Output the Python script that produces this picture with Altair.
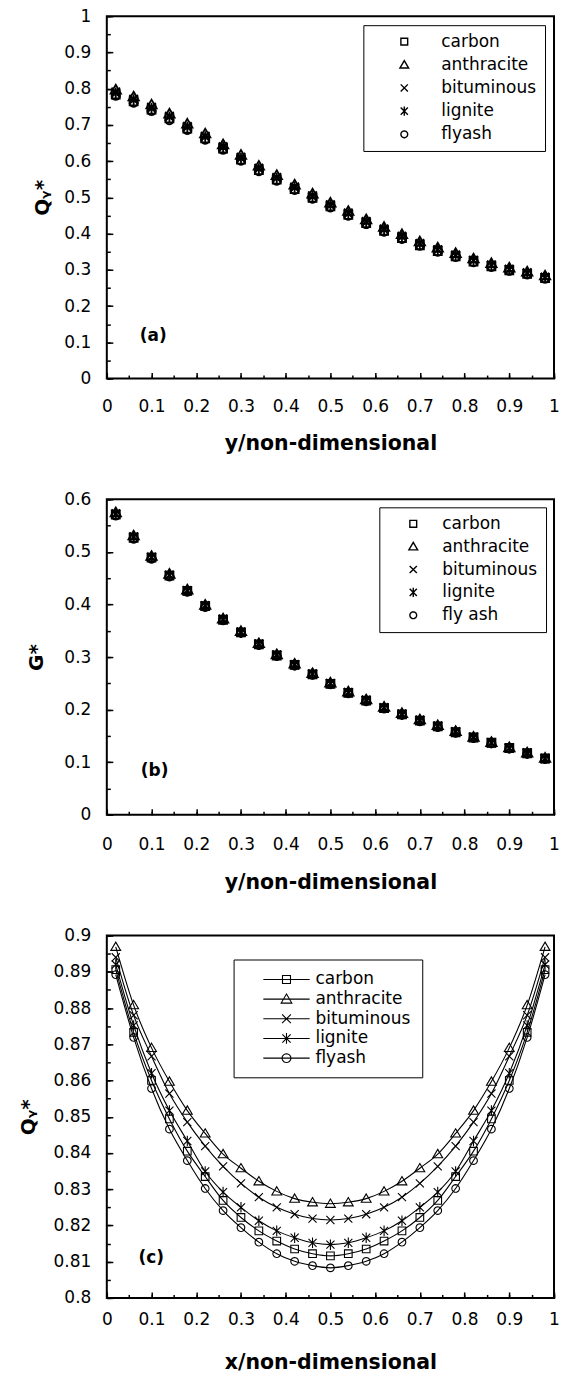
import math
import altair as alt
import pandas as pd

# ---------------- data ----------------
X_POS = [0.02, 0.06, 0.10, 0.14, 0.18, 0.22, 0.26, 0.30, 0.34, 0.38, 0.42, 0.46, 0.50,
         0.54, 0.58, 0.62, 0.66, 0.70, 0.74, 0.78, 0.82, 0.86, 0.90, 0.94, 0.98]

NAMES_A = ["carbon", "anthracite", "bituminous", "lignite", "flyash"]
NAMES_B = ["carbon", "anthracite", "bituminous", "lignite", "fly ash"]
NAMES_C = ["carbon", "anthracite", "bituminous", "lignite", "flyash"]

# panel (a)  Qy* vs y
carbon_a = [0.784, 0.765, 0.742, 0.718, 0.690, 0.663, 0.635, 0.604, 0.575, 0.549, 0.523, 0.499, 0.475,
            0.452, 0.429, 0.408, 0.388, 0.368, 0.352, 0.337, 0.323, 0.310, 0.299, 0.289, 0.277]
anthracite_a = [0.797, 0.778, 0.756, 0.731, 0.703, 0.676, 0.646, 0.617, 0.587, 0.561, 0.535, 0.510, 0.485,
                0.462, 0.439, 0.418, 0.398, 0.378, 0.361, 0.346, 0.331, 0.318, 0.306, 0.295, 0.284]
bituminous_a = [0.791, 0.771, 0.749, 0.724, 0.696, 0.669, 0.640, 0.611, 0.581, 0.555, 0.529, 0.505, 0.480,
                0.457, 0.434, 0.413, 0.393, 0.373, 0.356, 0.341, 0.327, 0.314, 0.302, 0.292, 0.280]
lignite_a = [0.788, 0.769, 0.746, 0.722, 0.694, 0.667, 0.638, 0.608, 0.579, 0.553, 0.527, 0.502, 0.478,
             0.455, 0.432, 0.411, 0.391, 0.371, 0.355, 0.340, 0.326, 0.313, 0.301, 0.291, 0.279]
flyash_a = [0.780, 0.761, 0.738, 0.713, 0.686, 0.659, 0.631, 0.601, 0.572, 0.546, 0.520, 0.496, 0.472,
            0.449, 0.426, 0.405, 0.385, 0.366, 0.350, 0.335, 0.321, 0.308, 0.297, 0.287, 0.275]

# panel (b)  G* vs y
carbon_b = [0.571, 0.527, 0.489, 0.455, 0.426, 0.397, 0.371, 0.347, 0.324, 0.303, 0.285, 0.267, 0.249,
            0.232, 0.217, 0.203, 0.191, 0.179, 0.168, 0.157, 0.147, 0.137, 0.127, 0.117, 0.107]
anthracite_b = [0.575, 0.531, 0.492, 0.458, 0.428, 0.399, 0.373, 0.349, 0.326, 0.305, 0.287, 0.269, 0.251,
                0.234, 0.219, 0.205, 0.193, 0.181, 0.170, 0.159, 0.148, 0.138, 0.128, 0.118, 0.108]
bituminous_b = [0.573, 0.529, 0.490, 0.456, 0.427, 0.398, 0.372, 0.348, 0.325, 0.304, 0.286, 0.268, 0.250,
                0.233, 0.218, 0.204, 0.192, 0.180, 0.169, 0.158, 0.148, 0.137, 0.127, 0.118, 0.107]
lignite_b = [0.572, 0.528, 0.490, 0.456, 0.426, 0.398, 0.372, 0.347, 0.325, 0.304, 0.285, 0.268, 0.250,
             0.233, 0.218, 0.204, 0.191, 0.180, 0.168, 0.158, 0.147, 0.137, 0.127, 0.117, 0.107]
flyash_b = [0.569, 0.525, 0.487, 0.453, 0.424, 0.395, 0.370, 0.346, 0.323, 0.302, 0.284, 0.266, 0.248,
            0.231, 0.216, 0.202, 0.190, 0.178, 0.167, 0.156, 0.146, 0.136, 0.126, 0.116, 0.106]

# panel (c)  Qy* vs x
carbon_c = [0.8906, 0.8733, 0.8600, 0.8494, 0.8405, 0.8335, 0.8269, 0.8222, 0.8185, 0.8157, 0.8135, 0.8122, 0.8116,
            0.8122, 0.8135, 0.8157, 0.8185, 0.8222, 0.8269, 0.8335, 0.8405, 0.8494, 0.8600, 0.8733, 0.8906]
anthracite_c = [0.8969, 0.8808, 0.8690, 0.8597, 0.8517, 0.8454, 0.8397, 0.8358, 0.8322, 0.8294, 0.8274, 0.8264, 0.8260,
                0.8264, 0.8274, 0.8294, 0.8322, 0.8358, 0.8397, 0.8454, 0.8517, 0.8597, 0.8690, 0.8808, 0.8969]
bituminous_c = [0.8940, 0.8780, 0.8667, 0.8564, 0.8485, 0.8419, 0.8363, 0.8316, 0.8278, 0.8250, 0.8231, 0.8219, 0.8215,
                0.8219, 0.8231, 0.8250, 0.8278, 0.8316, 0.8363, 0.8419, 0.8485, 0.8564, 0.8667, 0.8780, 0.8940]
lignite_c = [0.8920, 0.8752, 0.8620, 0.8517, 0.8433, 0.8349, 0.8292, 0.8250, 0.8213, 0.8185, 0.8166, 0.8152, 0.8147,
             0.8152, 0.8166, 0.8185, 0.8213, 0.8250, 0.8292, 0.8349, 0.8433, 0.8517, 0.8620, 0.8752, 0.8920]
flyash_c = [0.8892, 0.8719, 0.8578, 0.8466, 0.8379, 0.8302, 0.8241, 0.8194, 0.8154, 0.8122, 0.8101, 0.8089, 0.8083,
            0.8089, 0.8101, 0.8122, 0.8154, 0.8194, 0.8241, 0.8302, 0.8379, 0.8466, 0.8578, 0.8719, 0.8892]

X_TICKS = [0, 0.1, 0.2, 0.3, 0.4, 0.5, 0.6, 0.7, 0.8, 0.9, 1]
X_MINOR = [0, 0.05, 0.1, 0.15, 0.2, 0.25, 0.3, 0.35, 0.4, 0.45, 0.5, 0.55, 0.6, 0.65, 0.7, 0.75, 0.8, 0.85, 0.9, 0.95, 1]
Y_TICKS_A = [0, 0.1, 0.2, 0.3, 0.4, 0.5, 0.6, 0.7, 0.8, 0.9, 1]
Y_MINOR_A = X_MINOR
Y_TICKS_B = [0, 0.1, 0.2, 0.3, 0.4, 0.5, 0.6]
Y_MINOR_B = [0, 0.05, 0.1, 0.15, 0.2, 0.25, 0.3, 0.35, 0.4, 0.45, 0.5, 0.55, 0.6]
Y_TICKS_C = [0.8, 0.81, 0.82, 0.83, 0.84, 0.85, 0.86, 0.87, 0.88, 0.89, 0.9]
Y_MINOR_C = [0.8, 0.805, 0.81, 0.815, 0.82, 0.825, 0.83, 0.835, 0.84, 0.845, 0.85, 0.855,
             0.86, 0.865, 0.87, 0.875, 0.88, 0.885, 0.89, 0.895, 0.9]

PANEL_TAGS = ["(a)", "(b)", "(c)"]
TAG_X = [0.104, 0.107, 0.0995]
TAG_Y = [0.118, 0.0835, 0.8111]


def long_df(names, cols):
    rows = []
    for n, vals in zip(names, cols):
        for xv, v in zip(X_POS, vals):
            rows.append({"x": xv, "v": v, "s": n})
    return pd.DataFrame(rows)


df_a = long_df(NAMES_A, [carbon_a, anthracite_a, bituminous_a, lignite_a, flyash_a])
df_b = long_df(NAMES_B, [carbon_b, anthracite_b, bituminous_b, lignite_b, flyash_b])
df_c = long_df(NAMES_C, [carbon_c, anthracite_c, bituminous_c, lignite_c, flyash_c])

# ---------------- styling ----------------
FONT = "DejaVu Sans"
LBL = 17
W = 448
HA, HB, HC = 363, 316, 363


def sq(r):
    return f"M{-r},{-r}L{r},{-r}L{r},{r}L{-r},{r}Z"


def tri(r):
    return f"M0,{-1.1*r:.4f}L{1.15*r:.4f},{0.85*r:.4f}L{-1.15*r:.4f},{0.85*r:.4f}Z"


def xs(r):
    return f"M{-r},{-r}L{r},{r}M{-r},{r}L{r},{-r}"


def ast(r):
    return xs(r) + f"M0,{-1.3*r:.4f}L0,{1.3*r:.4f}"


def circ(r, n=20):
    pts = [f"{r*math.cos(2*math.pi*i/n):.4f},{r*math.sin(2*math.pi*i/n):.4f}" for i in range(n)]
    return "M" + "L".join(pts) + "Z"


SHAPES = [sq(0.85), tri(0.95), xs(0.9), ast(0.9), circ(0.85)]
# legend (c): symbol unit = 8 px (symbolSize 256); line 46 px long through the marker
LINE_SEG = "M-2.9,0L2.9,0"
LEG_C_SHAPES = [LINE_SEG + sq(0.5), LINE_SEG + tri(0.58), LINE_SEG + xs(0.55),
                LINE_SEG + ast(0.52), LINE_SEG + circ(0.55)]


def main_x_axis(title, lpad, tpad):
    return alt.Axis(values=X_TICKS, format="~g", labelFont=FONT, labelFontSize=LBL, labelColor="black",
                    labelPadding=lpad, labelFlush=False, labelOverlap=False, ticks=False, domain=False,
                    grid=False, title=title, titleFont=FONT, titleFontSize=20.5, titleFontWeight="bold",
                    titleColor="black", titlePadding=tpad)


def main_y_axis(values, title, tpad):
    return alt.Axis(values=values, format="~g", labelFont=FONT, labelFontSize=LBL, labelColor="black",
                    labelPadding=16, labelOverlap=False, ticks=False, domain=False, grid=False,
                    title=title, titleFont=FONT, titleFontSize=20, titleFontWeight="bold",
                    titleColor="black", titlePadding=tpad)


def tick_x_axis(H, values, size):
    return alt.Axis(orient="top", offset=-H, values=values, labels=False, domain=False, grid=False,
                    ticks=True, tickColor="black", tickWidth=1.5, tickSize=size, title=None)


def tick_y_axis(values, size):
    return alt.Axis(orient="right", offset=-W, values=values, labels=False, domain=False, grid=False,
                    ticks=True, tickColor="black", tickWidth=1.5, tickSize=size, title=None)


def marker_legend(lx, ly, so, lo, rp):
    return alt.Legend(orient="none", legendX=lx, legendY=ly, title=None, strokeColor="black",
                      fillColor="white", padding=8, labelFont=FONT, labelFontSize=LBL, labelColor="black",
                      symbolSize=64, symbolStrokeWidth=1.4, symbolStrokeColor="black",
                      symbolOffset=so, labelOffset=lo, rowPadding=rp)


x_scale = alt.Scale(domain=[0, 1], nice=False, zero=False)


def tick_layers(tag_i, y_scale, H, ymajor, yminor):
    tag_df = pd.DataFrame({"x": [TAG_X[tag_i]], "v": [TAG_Y[tag_i]], "t": [PANEL_TAGS[tag_i]]})
    tag = alt.Chart(tag_df).mark_text(font=FONT, fontSize=17, fontWeight="bold", color="black").encode(
        x=alt.X("x:Q", scale=x_scale, axis=tick_x_axis(H, X_TICKS, 6)),
        y=alt.Y("v:Q", scale=y_scale, axis=tick_y_axis(ymajor, 6)),
        text="t:N",
    )
    minor = alt.Chart(tag_df).mark_point(opacity=0, size=1).encode(
        x=alt.X("x:Q", scale=x_scale, axis=tick_x_axis(H, X_MINOR, 3.5)),
        y=alt.Y("v:Q", scale=y_scale, axis=tick_y_axis(yminor, 3.5)),
    )
    return [tag, minor]


def scatter_panel(df, names, ydom, yticks, yminor, ytitle, xtitle, H, tag_i, leg, lpad, tpad, ytpad):
    y_scale = alt.Scale(domain=ydom, nice=False, zero=False)
    pts = alt.Chart(df).mark_point(filled=False, color="black", strokeWidth=1.8, size=90, opacity=1).encode(
        x=alt.X("x:Q", scale=x_scale, axis=main_x_axis(xtitle, lpad, tpad)),
        y=alt.Y("v:Q", scale=y_scale, axis=main_y_axis(yticks, ytitle, ytpad)),
        shape=alt.Shape("s:N", scale=alt.Scale(domain=names, range=SHAPES), legend=leg),
    )
    layers = [pts] + tick_layers(tag_i, y_scale, H, yticks, yminor)
    return alt.layer(*layers).resolve_axis(x="independent", y="independent").properties(width=W, height=H)


panel_a = scatter_panel(df_a, NAMES_A, [0, 1], Y_TICKS_A, Y_MINOR_A, "Qᵧ*", "y/non-dimensional", HA, 0,
                        marker_legend(257, 9, 24.5, 28.5, 5.2), 20.5, 18.5, 11)
panel_b = scatter_panel(df_b, NAMES_B, [0, 0.6], Y_TICKS_B, Y_MINOR_B, "G*", "y/non-dimensional", HB, 1,
                        marker_legend(273, 8, 17.5, 20.5, 4.9), 22, 20, 17)

# panel (c)
y_scale_c = alt.Scale(domain=[0.8, 0.9], nice=False, zero=False)
lines_c = alt.Chart(df_c).mark_line(color="black", strokeWidth=1.1, interpolate="monotone").encode(
    x=alt.X("x:Q", scale=x_scale, axis=main_x_axis("x/non-dimensional", 14, 25)),
    y=alt.Y("v:Q", scale=y_scale_c, axis=main_y_axis(Y_TICKS_C, "Qᵧ*", 15)),
    detail="s:N",
)
pts_c = alt.Chart(df_c).mark_point(filled=False, color="black", strokeWidth=1.1, size=81, opacity=1).encode(
    x=alt.X("x:Q", scale=x_scale, axis=None),
    y=alt.Y("v:Q", scale=y_scale_c, axis=None),
    shape=alt.Shape("s:N", scale=alt.Scale(domain=NAMES_C, range=SHAPES), legend=None),
)
legend_c = alt.Chart(df_c).transform_filter("false").mark_point(
    filled=False, color="black", strokeWidth=1.1, opacity=1).encode(
    x=alt.X("x:Q", scale=x_scale, axis=None),
    y=alt.Y("v:Q", scale=y_scale_c, axis=None),
    shape=alt.Shape("s:N", scale=alt.Scale(domain=NAMES_C, range=LEG_C_SHAPES),
                    legend=alt.Legend(orient="none", legendX=127, legendY=24, title=None,
                                      strokeColor="black", fillColor="white", padding=11,
                                      labelFont=FONT, labelFontSize=LBL, labelColor="black",
                                      labelExpr="datum.label + '\u2002'",
                                      symbolSize=256, symbolStrokeWidth=1.1, symbolStrokeColor="black",
                                      symbolOffset=33, labelOffset=20, rowPadding=2.7)),
)
layers_c = [lines_c, pts_c] + tick_layers(2, y_scale_c, HC, Y_TICKS_C, Y_MINOR_C) + [legend_c]
panel_c = alt.layer(*layers_c).resolve_axis(
    x="independent", y="independent").resolve_scale(shape="independent").properties(width=W, height=HC)

chart = alt.vconcat(panel_a, panel_b, panel_c, spacing=121, bounds="flush").resolve_scale(
    shape="independent").resolve_legend(shape="independent").properties(
    padding={"left": 17, "top": 5, "right": 0, "bottom": 0},
    background="white",
).configure_view(stroke="black", strokeWidth=2)

chart.save("out.html", embed_options={"renderer": "svg", "actions": False})
